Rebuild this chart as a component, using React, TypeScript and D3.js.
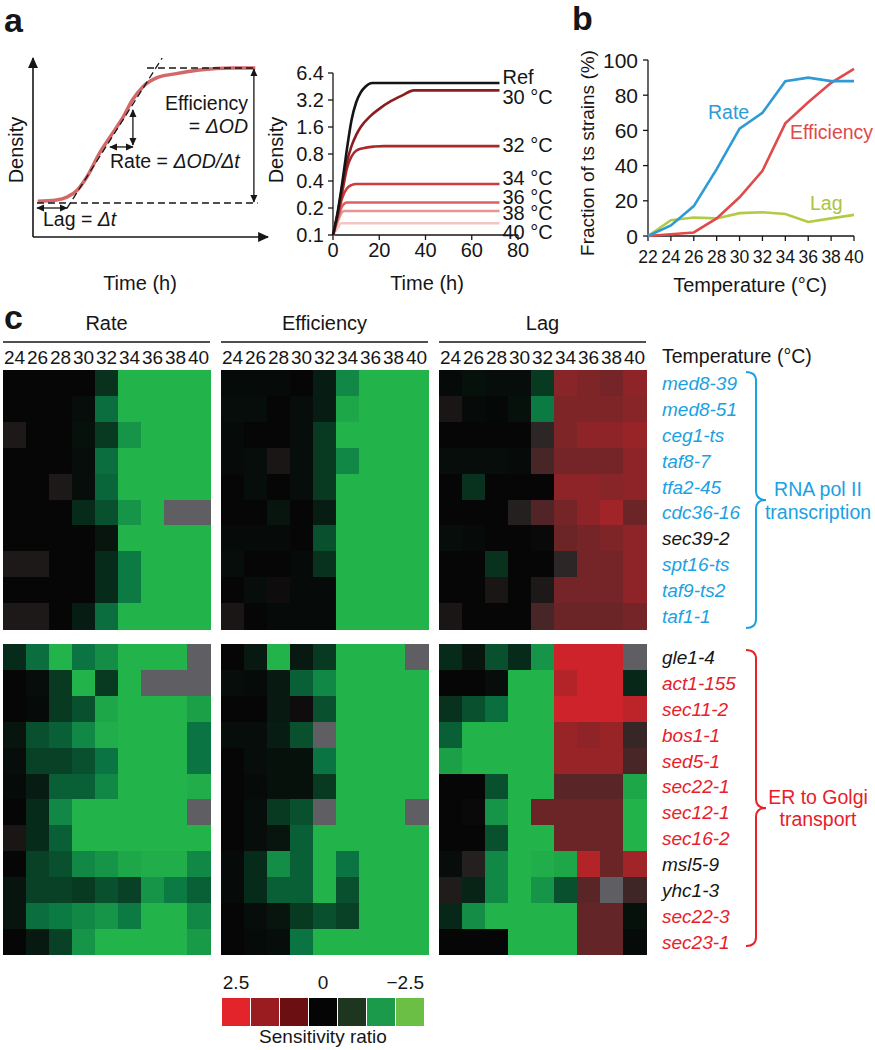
import React from 'react';
import * as d3 from 'd3';

const FONT = "'Liberation Sans', Arial, Helvetica, sans-serif";

// ---------- Panel a (schematic) ----------
const schemTime = [2, 10, 14.5, 19, 23, 28.5, 33, 38.5, 42.5, 47, 53, 60, 71, 85.5, 95];
const schemDensity = [20, 20.7, 22.3, 26.3, 33.5, 47, 56, 67, 76.5, 84, 89, 91, 93.3, 94.4, 94.4];

// ---------- Panel a (growth curves) ----------
const curveLabels = ['Ref', '30 °C', '32 °C', '34 °C', '36 °C', '38 °C', '40 °C'];
const curveColors = ['#141414', '#8b1c1f', '#a82a2a', '#cc3d3d', '#dc6262', '#e79595', '#f2c6c6'];
const curveTimes = [
  [0, 2, 4, 6, 8, 10, 12, 14, 17, 72],
  [0, 2, 4, 6, 8, 10, 12, 16, 20, 25, 30, 35, 72],
  [0, 2, 4, 6, 8, 10, 13, 18, 22, 72],
  [0, 2, 4, 6, 8, 10, 72],
  [0, 2, 4, 6, 72],
  [0, 2, 4, 5, 72],
  [0, 2, 3.5, 72],
];
const curveDensity = [
  [0.1, 0.18, 0.38, 0.9, 1.9, 3.0, 3.9, 4.5, 4.95, 4.95],
  [0.1, 0.17, 0.35, 0.65, 0.98, 1.3, 1.6, 2.1, 2.55, 3.1, 3.6, 4.1, 4.1],
  [0.1, 0.17, 0.3, 0.55, 0.75, 0.87, 0.93, 0.97, 0.98, 0.98],
  [0.1, 0.16, 0.26, 0.33, 0.36, 0.37, 0.37],
  [0.1, 0.15, 0.21, 0.23, 0.23],
  [0.1, 0.14, 0.18, 0.185, 0.185],
  [0.1, 0.12, 0.135, 0.135],
];
const densityTicks = [0.1, 0.2, 0.4, 0.8, 1.6, 3.2, 6.4];
const timeTicks = [0, 20, 40, 60, 80];
const labelNudge = [-6, 7, -1, -6, -6, 2, 9];

// ---------- Panel b ----------
const bTemps = [22, 24, 26, 28, 30, 32, 34, 36, 38, 40];
const bRate = [0, 6, 17, 38, 61, 70, 88, 90, 88, 88];
const bEfficiency = [0, 1, 2, 10, 22, 37, 64, 76, 87, 95];
const bLag = [0, 9, 10.5, 10, 13, 13.5, 12.5, 8, 10, 12];
const bTicks = [0, 20, 40, 60, 80, 100];

// ---------- Panel c ----------
const temps = [24, 26, 28, 30, 32, 34, 36, 38, 40];
const rowsTop = ['med8-39', 'med8-51', 'ceg1-ts', 'taf8-7', 'tfa2-45', 'cdc36-16', 'sec39-2', 'spt16-ts', 'taf9-ts2', 'taf1-1'];
const rowsTopColor = ['b', 'b', 'b', 'b', 'b', 'b', 'k', 'b', 'b', 'b'];
const rowsBottom = ['gle1-4', 'act1-155', 'sec11-2', 'bos1-1', 'sed5-1', 'sec22-1', 'sec12-1', 'sec16-2', 'msl5-9', 'yhc1-3', 'sec22-3', 'sec23-1'];
const rowsBottomColor = ['k', 'r', 'r', 'r', 'r', 'r', 'r', 'r', 'k', 'k', 'r', 'r'];

const G = -2.5;
const rateTop = [
  [0, 0, 0, 0, -0.6, G, G, G, G],
  [0, 0, 0, -0.1, -1.4, G, G, G, G],
  [0.3, 0, 0, -0.15, -0.7, -2.0, G, G, G],
  [0, 0, 0, -0.1, -1.4, G, G, G, G],
  [0, 0, 0.3, -0.1, -1.3, G, G, G, G],
  [0, 0, 0, -0.5, -1.0, -2.0, G, null, null],
  [0, 0, 0, 0, -0.2, G, G, G, G],
  [0.3, 0.3, 0, 0, -0.5, -1.6, G, G, G],
  [0, 0, 0, 0, -0.5, -1.6, G, G, G],
  [0.3, 0.3, 0, -0.3, -1.4, G, G, G, G],
];
const rateBottom = [
  [-0.5, -1.4, G, -1.5, -1.9, G, G, G, null],
  [0, -0.1, -0.7, G, -0.7, G, null, null, null],
  [0, -0.05, -0.7, -1.0, -2.3, G, G, G, -2.2],
  [-0.2, -1.0, -1.2, -1.8, -2.4, G, G, G, -1.5],
  [-0.1, -0.8, -0.8, -1.0, -1.5, G, G, G, -1.5],
  [-0.05, -0.3, -1.2, -1.2, -1.8, G, G, G, -2.4],
  [0, -0.5, -1.8, G, G, G, G, G, null],
  [0.25, -0.5, -1.2, G, G, G, G, G, G],
  [0, -0.8, -1.0, -1.8, -2.0, -2.3, -2.4, -2.4, -1.8],
  [-0.2, -0.8, -0.8, -0.7, -1.0, -0.8, -2.0, -1.6, -1.2],
  [-0.2, -1.4, -1.6, -1.8, -2.0, -1.6, G, G, -1.8],
  [0, -0.25, -0.8, -2.0, G, G, G, G, -2.1],
];
const effTop = [
  [-0.05, -0.05, -0.05, 0, -0.3, -1.8, G, G, G],
  [-0.1, -0.1, 0, -0.1, -0.3, -2.3, G, G, G],
  [-0.05, 0, 0, -0.1, -0.7, G, G, G, G],
  [-0.05, -0.1, 0.25, -0.1, -0.7, -1.8, G, G, G],
  [0, -0.1, 0, -0.1, -0.7, G, G, G, G],
  [0, 0, -0.2, 0, -0.3, G, G, G, G],
  [-0.05, -0.05, -0.05, 0, -1.0, G, G, G, G],
  [-0.1, 0, 0, -0.05, -0.6, G, G, G, G],
  [0, -0.1, 0.1, -0.05, -0.05, G, G, G, G],
  [0.25, 0, -0.05, -0.05, -0.05, G, G, G, G],
];
const effBottom = [
  [0, -0.25, G, -0.25, -0.7, G, G, G, null],
  [-0.1, -0.05, -0.25, -1.2, -1.8, G, G, G, G],
  [0, 0, -0.25, 0.1, -1.0, G, G, G, G],
  [-0.1, -0.1, -0.3, -1.0, null, G, G, G, G],
  [0, -0.1, -0.15, -0.15, -1.5, G, G, G, G],
  [0, -0.05, -0.15, -0.15, -0.7, G, G, G, G],
  [0, -0.1, -0.7, -1.0, null, G, G, G, null],
  [0, -0.1, -0.2, -1.2, G, G, G, G, G],
  [-0.05, -0.5, -1.9, -1.2, G, -1.5, G, G, G],
  [-0.05, -0.5, -1.2, -1.2, G, -1.0, G, G, G],
  [0, -0.1, -0.2, -0.7, -1.0, -0.8, G, G, G],
  [0, -0.05, -0.1, -1.5, G, G, G, G, G],
];
const lagTop = [
  [-0.05, -0.15, -0.1, -0.1, -0.7, 1.5, 1.4, 1.3, 1.6],
  [0.25, -0.05, -0.03, -0.15, -1.6, 1.4, 1.4, 1.4, 1.5],
  [0, 0, 0, 0, 0.5, 1.4, 1.6, 1.6, 1.7],
  [-0.1, -0.1, -0.1, -0.05, 0.8, 1.3, 1.3, 1.3, 1.6],
  [0, -0.6, 0, 0, 0, 1.6, 1.6, 1.5, 1.6],
  [0, 0, 0, 0.4, 0.9, 1.3, 1.6, 1.8, 1.2],
  [-0.1, -0.05, 0, 0, 0.05, 1.2, 1.3, 1.4, 1.6],
  [0, 0, -0.6, 0, 0, 0.5, 1.3, 1.3, 1.6],
  [0, 0, 0.25, 0, 0.3, 1.3, 1.3, 1.3, 1.6],
  [0.25, 0, 0, 0, 0.8, 1.2, 1.2, 1.2, 1.3],
];
const lagBottom = [
  [-0.5, -0.2, -1.0, -0.5, -2.0, 2.3, 2.3, 2.3, null],
  [0, 0, -0.1, G, G, 2.0, 2.3, 2.3, -0.45],
  [-0.6, -1.0, -1.4, G, G, 2.3, 2.3, 2.3, 2.1],
  [-1.2, G, G, G, G, 1.7, 1.6, 1.7, 0.6],
  [-2.2, G, G, G, G, 1.7, 1.7, 1.7, 0.8],
  [0, 0, -1.0, G, G, 1.0, 1.0, 1.0, -2.3],
  [0, 0.05, -2.0, G, 1.2, 1.2, 1.2, 1.2, G],
  [0, 0, -1.0, G, G, 1.2, 1.2, 1.2, G],
  [-0.1, 0.4, -1.8, G, -2.4, -2.3, 2.0, 1.2, 1.8],
  [0.35, -0.4, -1.8, G, -2.0, -1.0, 1.0, null, 0.7],
  [-0.45, -1.9, G, G, G, G, 1.1, 1.1, -0.15],
  [0, 0, 0, G, G, G, 1.1, 1.1, -0.05],
];

const legendValues = ['2.5', '0', '\u22122.5'];
const legendColors = ['#e3242b', '#9b1c20', '#6b0f12', '#050505', '#1e3520', '#1a9a4a', '#6bbf45'];

const heatColor = d3
  .scaleLinear<string>()
  .domain([-2.5, -1.5, 0, 0.5, 2.5])
  .range(['#22b34b', '#0a7542', '#060606', '#2d2626', '#e0232a'])
  .clamp(true);
const MISSING = '#5f5f63';
const labelColor = { b: '#1ba1e2', k: '#161616', r: '#e8202a' };

const TOP_Y = 370;
const BOT_Y = 644;
const ROW_H = 25.9;
const PANEL_W = 207;

function HeatPanel({ x0, title, top, bottom }) {
  const x = d3.scaleBand<number>().domain(temps).range([x0, x0 + PANEL_W]);
  const yT = d3.scaleBand<string>().domain(rowsTop).range([TOP_Y, TOP_Y + rowsTop.length * ROW_H]);
  const yB = d3.scaleBand<string>().domain(rowsBottom).range([BOT_Y, BOT_Y + rowsBottom.length * ROW_H]);
  const cells = [];
  const add = (mat, rows, y, key) =>
    mat.forEach((row, i) =>
      row.forEach((v, j) => {
        cells.push(
          <rect
            key={key + i + '-' + j}
            x={x(temps[j])}
            y={y(rows[i])}
            width={x.bandwidth() + 0.6}
            height={y.bandwidth() + 0.6}
            fill={v === null ? MISSING : heatColor(v)}
          />
        );
      })
    );
  add(top, rowsTop, yT, 't');
  add(bottom, rowsBottom, yB, 'b');
  return (
    <g>
      <text x={x0 + PANEL_W / 2} y={330} fontSize={20} textAnchor="middle" fill="#161616">{title}</text>
      <line x1={x0} x2={x0 + PANEL_W} y1={342} y2={342} stroke="#161616" strokeWidth={1.5} />
      {temps.map((t) => (
        <text key={t} x={x(t) + x.bandwidth() / 2} y={364} fontSize={19} textAnchor="middle" fill="#161616">{t}</text>
      ))}
      <g shapeRendering="crispEdges">{cells}</g>
    </g>
  );
}

function brace(x0, y0, y1, ymid, w) {
  const x1 = x0 + w / 2;
  const xt = x0 + w;
  const r = 9;
  return `M${x0},${y0} Q${x1},${y0} ${x1},${y0 + r} L${x1},${ymid - r} Q${x1},${ymid} ${xt},${ymid} Q${x1},${ymid} ${x1},${ymid + r} L${x1},${y1 - r} Q${x1},${y1} ${x0},${y1}`;
}

export default function App() {
  // schematic scales
  const sx = d3.scaleLinear().domain([0, 100]).range([33, 267]);
  const sy = d3.scaleLinear().domain([0, 100]).range([237, 58]);
  const schemLine = d3
    .line<number>()
    .x((_, i) => sx(schemTime[i]))
    .y((d) => sy(d))
    .curve(d3.curveMonotoneX);

  // growth curve scales
  const gx = d3.scaleLinear().domain([0, 80]).range([333, 518]);
  const gy = d3.scaleLog().base(2).domain([0.1, 6.4]).range([235, 73]);
  const gLine = (ts, ds) =>
    d3
      .line<number>()
      .x((_, i) => gx(ts[i]))
      .y((d) => gy(d))
      .curve(d3.curveMonotoneX)(ds);

  // panel b scales
  const bx = d3.scaleLinear().domain([22, 40]).range([648, 854]);
  const by = d3.scaleLinear().domain([0, 100]).range([236, 60]);
  const bLine = (vals) =>
    d3
      .line<number>()
      .x((_, i) => bx(bTemps[i]))
      .y((d) => by(d))(vals);

  const ink = '#161616';

  return (
    <svg
      width={875}
      height={1050}
      style={{ position: 'absolute', left: 0, top: 0, background: '#fff' }}
      fontFamily={FONT}
    >
      <defs>
        <marker id="ah" viewBox="0 0 10 10" refX="9" refY="5" markerWidth="8" markerHeight="8" markerUnits="userSpaceOnUse" orient="auto-start-reverse">
          <path d="M0,0.5 L10,5 L0,9.5 z" fill={ink} />
        </marker>
        <marker id="ahBig" viewBox="0 0 10 10" refX="9" refY="5" markerWidth="12" markerHeight="11" markerUnits="userSpaceOnUse" orient="auto-start-reverse">
          <path d="M0,0.5 L10,5 L0,9.5 z" fill={ink} />
        </marker>
      </defs>

      {/* ---------- Panel letters ---------- */}
      <text x={4} y={32} fontSize={34} fontWeight="bold" fill={ink}>a</text>
      <text x={572} y={30} fontSize={34} fontWeight="bold" fill={ink}>b</text>
      <text x={4} y={329} fontSize={34} fontWeight="bold" fill={ink}>c</text>

      {/* ---------- Panel a schematic ---------- */}
      <line x1={sx(0)} y1={sy(0)} x2={sx(0)} y2={58} stroke={ink} strokeWidth={1.6} markerEnd="url(#ahBig)" />
      <line x1={sx(0)} y1={sy(0)} x2={268} y2={sy(0)} stroke={ink} strokeWidth={1.6} markerEnd="url(#ahBig)" />
      <text transform={`translate(23,150) rotate(-90)`} fontSize={20} textAnchor="middle" fill={ink}>Density</text>
      <text x={140} y={290} fontSize={20} textAnchor="middle" fill={ink}>Time (h)</text>
      <path d={schemLine(schemDensity) || ''} fill="none" stroke="#d26868" strokeWidth={3.5} />
      <g stroke={ink} strokeWidth={1.3} strokeDasharray="7,4" fill="none">
        <line x1={sx(1.7)} x2={sx(96)} y1={sy(19)} y2={sy(19)} />
        <line x1={sx(48.7)} x2={sx(95)} y1={sy(94.4)} y2={sy(94.4)} />
        <line x1={sx(14.5)} y1={sy(16)} x2={sx(55.2)} y2={sy(100)} />
      </g>
      <g stroke={ink} strokeWidth={1.3}>
        <line x1={sx(94.4)} x2={sx(94.4)} y1={sy(94.4) + 1} y2={sy(19) - 1} markerStart="url(#ah)" markerEnd="url(#ah)" />
        <line x1={sx(42.7)} x2={sx(42.7)} y1={sy(71)} y2={sy(51.4)} markerStart="url(#ah)" markerEnd="url(#ah)" />
        <line x1={sx(32.9)} x2={sx(42.7)} y1={sy(50.3)} y2={sy(50.3)} markerStart="url(#ah)" markerEnd="url(#ah)" />
        <line x1={sx(1.7)} x2={sx(14.5)} y1={sy(16.2)} y2={sy(16.2)} markerStart="url(#ah)" markerEnd="url(#ah)" />
      </g>
      <text x={248} y={110} fontSize={19.5} textAnchor="end" fill={ink}>Efficiency</text>
      <text x={248} y={133} fontSize={19.5} textAnchor="end" fill={ink}>
        = <tspan fontStyle="italic">ΔOD</tspan>
      </text>
      <text x={110} y={168} fontSize={19.5} fill={ink}>
        Rate = <tspan fontStyle="italic">ΔOD/Δt</tspan>
      </text>
      <text x={43} y={226} fontSize={19.5} fill={ink}>
        Lag = <tspan fontStyle="italic">Δt</tspan>
      </text>

      {/* ---------- Panel a growth curves ---------- */}
      <text transform={`translate(283,150) rotate(-90)`} fontSize={20} textAnchor="middle" fill={ink}>Density</text>
      <line x1={gx(0)} x2={gx(0)} y1={gy(0.1)} y2={gy(6.4)} stroke={ink} strokeWidth={1.3} />
      <line x1={gx(0)} x2={gx(80)} y1={gy(0.1)} y2={gy(0.1)} stroke={ink} strokeWidth={1.3} />
      {densityTicks.map((t) => (
        <g key={t}>
          <line x1={gx(0) - 5} x2={gx(0)} y1={gy(t)} y2={gy(t)} stroke={ink} strokeWidth={1.3} />
          <text x={gx(0) - 9} y={gy(t) + 7} fontSize={20} textAnchor="end" fill={ink}>{t}</text>
        </g>
      ))}
      {timeTicks.map((t) => (
        <g key={t}>
          <line x1={gx(t)} x2={gx(t)} y1={gy(0.1)} y2={gy(0.1) + 5} stroke={ink} strokeWidth={1.3} />
          <text x={gx(t)} y={257} fontSize={20} textAnchor="middle" fill={ink}>{t}</text>
        </g>
      ))}
      <text x={427} y={290} fontSize={20} textAnchor="middle" fill={ink}>Time (h)</text>
      {curveLabels.map((lab, i) => i).reverse().map((i) => (
        <path key={curveLabels[i]} d={gLine(curveTimes[i], curveDensity[i]) || ''} fill="none" stroke={curveColors[i]} strokeWidth={2.6} />
      ))}
      {curveLabels.map((lab, i) => {
        const d = curveDensity[i];
        return (
          <text key={lab} x={gx(72) + 3} y={gy(d[d.length - 1]) + 7 + labelNudge[i]} fontSize={20} fill={ink}>{lab}</text>
        );
      })}

      {/* ---------- Panel b ---------- */}
      <line x1={bx(22)} x2={bx(22)} y1={by(0)} y2={by(100)} stroke={ink} strokeWidth={1.3} />
      <line x1={bx(22)} x2={bx(40)} y1={by(0)} y2={by(0)} stroke={ink} strokeWidth={1.3} />
      {bTicks.map((t) => (
        <g key={t}>
          <line x1={bx(22) - 5} x2={bx(22)} y1={by(t)} y2={by(t)} stroke={ink} strokeWidth={1.3} />
          <text x={638} y={by(t) + 7.5} fontSize={21} textAnchor="end" fill={ink}>{t}</text>
        </g>
      ))}
      {bTemps.map((t) => (
        <g key={t}>
          <line x1={bx(t)} x2={bx(t)} y1={by(0)} y2={by(0) + 5} stroke={ink} strokeWidth={1.3} />
          <text x={bx(t)} y={263} fontSize={17.5} textAnchor="middle" fill={ink}>{t}</text>
        </g>
      ))}
      <text transform={`translate(594,153) rotate(-90)`} fontSize={19} textAnchor="middle" fill={ink}>Fraction of ts strains (%)</text>
      <text x={750} y={292} fontSize={20} textAnchor="middle" fill={ink}>Temperature (°C)</text>
      <path d={bLine(bLag) || ''} fill="none" stroke="#b1cb45" strokeWidth={2.6} />
      <path d={bLine(bEfficiency) || ''} fill="none" stroke="#e04a4a" strokeWidth={2.6} />
      <path d={bLine(bRate) || ''} fill="none" stroke="#2e9bd6" strokeWidth={2.6} />
      <text x={708} y={119} fontSize={19.5} fill="#2e9bd6">Rate</text>
      <text x={790} y={139} fontSize={19.5} fill="#e04a4a">Efficiency</text>
      <text x={810} y={210} fontSize={19.5} fill="#a9c43c">Lag</text>

      {/* ---------- Panel c ---------- */}
      <HeatPanel x0={3} title="Rate" top={rateTop} bottom={rateBottom} />
      <HeatPanel x0={221} title="Efficiency" top={effTop} bottom={effBottom} />
      <HeatPanel x0={439} title="Lag" top={lagTop} bottom={lagBottom} />

      <text x={662} y={363} fontSize={19.5} fill={ink}>Temperature (°C)</text>
      {rowsTop.map((r, i) => (
        <text key={r} x={662} y={TOP_Y + (i + 0.5) * ROW_H + 7} fontSize={19} fontStyle="italic" fill={labelColor[rowsTopColor[i]]}>{r}</text>
      ))}
      {rowsBottom.map((r, i) => (
        <text key={r + i} x={662} y={BOT_Y + (i + 0.5) * ROW_H + 7} fontSize={19} fontStyle="italic" fill={labelColor[rowsBottomColor[i]]}>{r}</text>
      ))}
      <path d={brace(746, 372, 628, 500, 20)} fill="none" stroke={labelColor.b} strokeWidth={2} />
      <text x={818} y={496} fontSize={19.5} textAnchor="middle" fill={labelColor.b}>RNA pol II</text>
      <text x={818} y={519} fontSize={19.5} textAnchor="middle" fill={labelColor.b}>transcription</text>
      <path d={brace(746, 650, 946, 808, 20)} fill="none" stroke={labelColor.r} strokeWidth={2} />
      <text x={818} y={804} fontSize={19.5} textAnchor="middle" fill={labelColor.r}>ER to Golgi</text>
      <text x={818} y={826} fontSize={19.5} textAnchor="middle" fill={labelColor.r}>transport</text>

      {/* ---------- Legend ---------- */}
      {legendColors.map((c, i) => (
        <rect key={i} x={222 + i * 29} y={998} width={28} height={28} fill={c} />
      ))}
      <text x={222 + 14} y={989} fontSize={19} textAnchor="middle" fill={ink}>{legendValues[0]}</text>
      <text x={222 + 3 * 29 + 14} y={989} fontSize={19} textAnchor="middle" fill={ink}>{legendValues[1]}</text>
      <text x={222 + 6 * 29 + 28} y={989} fontSize={19} textAnchor="end" fill={ink}>{legendValues[2]}</text>
      <text x={222 + 3 * 29 + 14} y={1043} fontSize={19} textAnchor="middle" fill={ink}>Sensitivity ratio</text>
    </svg>
  );
}
